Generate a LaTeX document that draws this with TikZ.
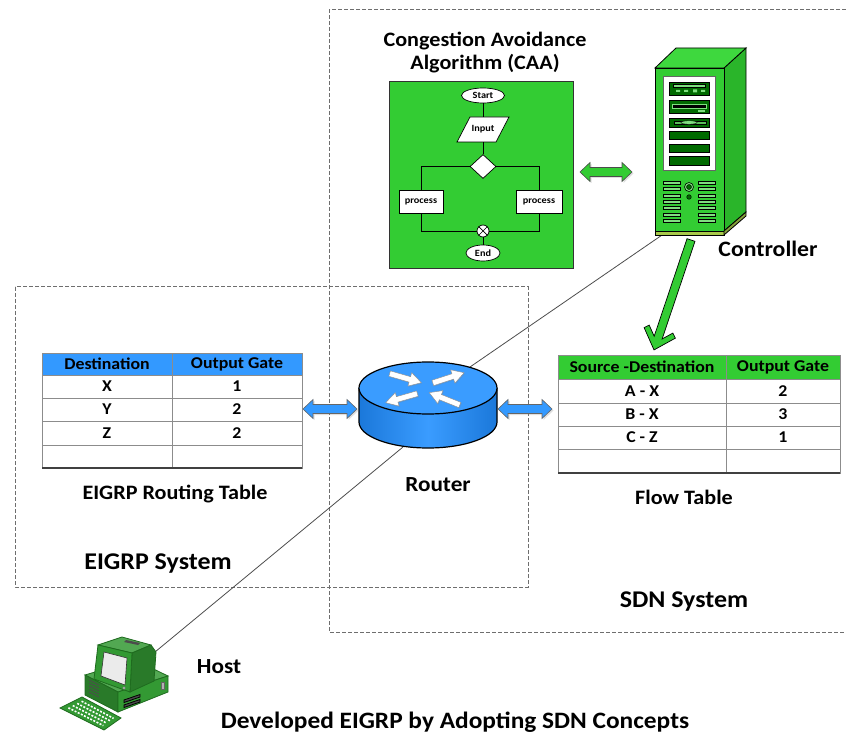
\documentclass[tikz,border=0pt]{standalone}
\usepackage{fontspec}
\setmainfont{Carlito}[FakeStretch=1.08]
\usetikzlibrary{calc,shapes.geometric,shadows}

\definecolor{caagreen}{HTML}{33CC33}
\definecolor{srvside}{HTML}{2AB52A}
\definecolor{srvtop}{HTML}{3ED83E}
\definecolor{srvbase}{HTML}{A8C84A}
\definecolor{baydark}{HTML}{006A00}
\definecolor{ventgreen}{HTML}{7FE07F}
\definecolor{hdrblue}{HTML}{3399FF}
\definecolor{rtrblue}{HTML}{3A9CFF}
\definecolor{rtrdark}{HTML}{1B78DA}
\definecolor{hostgreen}{HTML}{339933}
\definecolor{hostdark}{HTML}{1F6B1F}
\definecolor{dashgray}{HTML}{6E6E6E}
\definecolor{gridgray}{HTML}{8C8C8C}

\newcommand\txtsz[1]{\fontsize{#1}{#1}\selectfont\bfseries}

% horizontal double-headed block arrow between two points
\newcommand\hdarrow[3]{%
  \filldraw[#1] let \p1=(#2), \p2=(#3) in
    (\x1,\y1) -- (\x1+10pt,\y1+9.5pt) -- (\x1+10pt,\y1+4.5pt)
    -- (\x2-10pt,\y1+4.5pt) -- (\x2-10pt,\y1+9.5pt) -- (\x2,\y1)
    -- (\x2-10pt,\y1-9.5pt) -- (\x2-10pt,\y1-4.5pt)
    -- (\x1+10pt,\y1-4.5pt) -- (\x1+10pt,\y1-9.5pt) -- cycle;}

\begin{document}
\begin{tikzpicture}[x=1pt,y=-1pt,
  dashbox/.style={draw=dashgray, line width=1pt, dash pattern=on 4pt off 2pt},
  link/.style={draw=black!70, line width=0.8pt},
  lbl/.style={inner sep=0pt, font=\txtsz{21}},
  cell/.style={inner sep=0pt, font=\txtsz{16.5}},
  flow/.style={draw=black, fill=white, line width=0.7pt, inner sep=0pt, font=\txtsz{9.5}},
  fline/.style={draw=black, line width=0.7pt},
  gridline/.style={draw=gridgray, line width=0.8pt},
  blockarrow/.style={line width=0.6pt, drop shadow={opacity=0.25, shadow xshift=1.5pt, shadow yshift=-1.5pt}},
  rtrarrow/.pic={\filldraw[fill=white, draw=black!45, line width=0.4pt,
       drop shadow={opacity=0.2, shadow xshift=1pt, shadow yshift=-1pt}]
     (-16pt,-2.8pt) -- (5pt,-2.8pt) -- (5pt,-7pt) -- (17pt,0pt) -- (5pt,7pt) -- (5pt,2.8pt) -- (-16pt,2.8pt) -- cycle;}
]
\useasboundingbox (0,0) rectangle (846,735);

% ---------- system boundaries ----------
\draw[dashbox] (846,10) -- (329,10) -- (329,632) -- (846,632);
\draw[dashbox] (15,287) rectangle (528,587);

% ---------- anchor points of the links ----------
\coordinate (hostport) at (155,652);
\coordinate (rtrbottom) at (403,447);
\coordinate (rtrtop) at (470,367);
\coordinate (ctrlport) at (665,233);
\draw[link] (hostport) -- (rtrbottom);
\draw[link] (rtrtop) -- (ctrlport);

% ---------- CAA block ----------
\node[lbl, font=\txtsz{20.5}] (caatitle1) at (485,41) {Congestion Avoidance};
\node[lbl, font=\txtsz{20.5}] (caatitle2) at (485,64) {Algorithm (CAA)};
\node[draw=black!80, fill=caagreen, line width=0.8pt, minimum width=184pt, minimum height=187pt, inner sep=0pt] (caa) at (481,174.5) {};

\node[flow, ellipse, minimum width=43pt, minimum height=15pt] (start) at (483,95.5) {Start};
\filldraw[fill=white, draw=black, line width=0.7pt] (470,117) -- (509,117) -- (496,142) -- (457,142) -- cycle;
\node[inner sep=0pt, minimum width=40pt, minimum height=25pt, font=\txtsz{9.5}] (input) at (483,129.5) {Input};
\node[flow, diamond, minimum width=26pt, minimum height=24pt] (dec) at (483,166.5) {};
\node[flow, minimum width=44pt, minimum height=23pt] (pleft) at (421,201.5) {process};
\node[flow, minimum width=46pt, minimum height=23pt] (pright) at (539,201.5) {process};
\node[flow, circle, minimum size=12pt] (merge) at (483,231) {};
\draw[fline] (merge.north west) -- (merge.south east) (merge.north east) -- (merge.south west);
\node[flow, ellipse, minimum width=34pt, minimum height=16pt] (end) at (483,253) {End};

\draw[fline] (start) -- (input);
\draw[fline] (input) -- (dec);
\draw[fline] (dec.west) -| (pleft.north);
\draw[fline] (dec.east) -| (pright.north);
\draw[fline] (pleft.south) |- (merge.west);
\draw[fline] (pright.south) |- (merge.east);
\draw[fline] (merge) -- (end);

% ---------- controller (server tower) ----------
\begin{scope}[line width=0.8pt, draw=black]
  \filldraw[fill=srvside] (724,68) -- (746,48) -- (746,212) -- (724,231) -- cycle;
  \filldraw[fill=srvtop] (655,68) -- (676,48) -- (746,48) -- (724,68) -- cycle;
  \filldraw[fill=caagreen] (655,68) rectangle (724,231);
  \filldraw[fill=srvbase] (655,231) rectangle (724,235);
  \filldraw[fill=srvbase!80!black] (724,231) -- (746,212) -- (746,216) -- (724,235) -- cycle;
  \filldraw[fill=white, draw=black!60] (663,76) rectangle (715,170);
  \foreach \ya/\yb in {82/95,100/113,118/127,131/139,144/152,156/165}
    \filldraw[fill=baydark, draw=black, line width=0.6pt] (669,\ya) rectangle (709,\yb);
  % drive details
  \filldraw[fill=ventgreen, draw=black, line width=0.4pt] (673,84.5) rectangle (705,87);
  \fill[ventgreen] (676,90) rectangle (680,92) (684,90) rectangle (688,92) (693,89.5) rectangle (697,92.5) (701,90) rectangle (705,92);
  \filldraw[fill=black, draw=ventgreen, line width=0.5pt] (672,104) rectangle (706,108);
  \fill[ventgreen] (698,110) rectangle (705,112);
  \filldraw[fill=ventgreen!70!baydark, draw=black, line width=0.4pt] (674,121) rectangle (706,124);
  \filldraw[fill=ventgreen, draw=black, line width=0.4pt] (689,122.5) ellipse [x radius=8pt, y radius=1.8pt];
  % vents and buttons
  \foreach \i in {0,...,6} {
    \filldraw[fill=ventgreen, line width=0.5pt] (663,181+\i*6.4) rectangle (680,184+\i*6.4);
    \filldraw[fill=ventgreen, line width=0.5pt] (698,181+\i*6.4) rectangle (715,184+\i*6.4);
  }
  \filldraw[fill=ventgreen, line width=0.6pt] (689,187) circle [radius=4.5pt];
  \filldraw[fill=baydark, line width=0.4pt] (689,187) circle [radius=2.5pt];
  \filldraw[fill=baydark, line width=0.4pt] (689,197) circle [radius=2.3pt];
\end{scope}
\node[lbl, font=\txtsz{22}] (ctrllabel) at (768,249) {Controller};

\coordinate (caaright) at (580,172);
\coordinate (ctrlleft) at (632,172);
\hdarrow{fill=caagreen, draw=black!70, blockarrow}{caaright}{ctrlleft}

% controller to flow table
\coordinate (ctrlout) at (691,240);
\begin{scope}[shift={(ctrlout)}, rotate=-108.6]
  \filldraw[fill=caagreen, draw=black, line width=0.7pt]
    (0pt,4.2pt) -- (103pt,4.2pt) -- (94pt,12.5pt) -- (98pt,16.5pt) -- (116pt,0pt)
    -- (98pt,-16.5pt) -- (94pt,-12.5pt) -- (103pt,-4.2pt) -- (0pt,-4.2pt) -- cycle;
\end{scope}

% ---------- router ----------
\shade[left color=rtrdark, right color=rtrdark, middle color=rtrblue]
  (359,388) -- (359,422) arc[start angle=180, end angle=360, x radius=69pt, y radius=26pt]
  -- (497,388) arc[start angle=0, end angle=-180, x radius=69pt, y radius=26pt] -- cycle;
\draw[line width=1.2pt]
  (359,388) -- (359,422) arc[start angle=180, end angle=360, x radius=69pt, y radius=26pt]
  -- (497,388);
\filldraw[fill=rtrblue, draw=black, line width=1.2pt] (428,388) ellipse [x radius=69pt, y radius=26pt];
\pic[rotate=-16] at (405,378) {rtrarrow};
\pic[rotate=18] at (448,378) {rtrarrow};
\pic[rotate=-164] at (402,398) {rtrarrow};
\pic[rotate=158] at (445,399) {rtrarrow};
\node[lbl, font=\txtsz{21.5}] (rtrlabel) at (438,485) {Router};

% ---------- EIGRP routing table ----------
\fill[hdrblue] (42,353) rectangle (302,375);
\draw[gridline] (42,353) rectangle (302,468);
\foreach \y in {375,398,421,445} \draw[gridline] (42,\y) -- (302,\y);
\draw[gridline] (172,353) -- (172,468);
\draw[line width=1.6pt, black!75] (42,468) -- (302,468);
\node[cell] (edh1) at (107,364) {Destination};
\node[cell] (edh2) at (237,364) {Output Gate};
\node[cell] (ed1) at (107,386.5) {X};
\node[cell] (eg1) at (237,386.5) {1};
\node[cell] (ed2) at (107,409.5) {Y};
\node[cell] (eg2) at (237,409.5) {2};
\node[cell] (ed3) at (107,433) {Z};
\node[cell] (eg3) at (237,433) {2};
\node[lbl, font=\txtsz{20.5}] (eigrptitle) at (175,494) {EIGRP Routing Table};
\node[lbl, font=\txtsz{24}] (eigrpsys) at (158,564) {EIGRP System};

% ---------- SDN flow table ----------
\fill[caagreen] (558,355) rectangle (840,379);
\draw[gridline] (558,355) rectangle (840,473);
\foreach \y in {379,403,426,449} \draw[gridline] (558,\y) -- (840,\y);
\draw[gridline] (726,355) -- (726,473);
\draw[line width=1.6pt, black!75] (558,473) -- (840,473);
\node[cell] (fth1) at (642,367) {Source -Destination};
\node[cell] (fth2) at (783,367) {Output Gate};
\node[cell] (fs1) at (642,391) {A - X};
\node[cell] (fg1) at (783,391) {2};
\node[cell] (fs2) at (642,414.5) {B - X};
\node[cell] (fg2) at (783,414.5) {3};
\node[cell] (fs3) at (642,437.5) {C - Z};
\node[cell] (fg3) at (783,437.5) {1};
\node[lbl, font=\txtsz{20.5}] (flowtitle) at (684,497) {Flow Table};
\node[lbl, font=\txtsz{24}] (sdnsys) at (684,602) {SDN System};

% table <-> router links
\coordinate (etabE) at (303,409);
\coordinate (rtrW) at (357,409);
\coordinate (rtrE) at (498,409);
\coordinate (ftabW) at (552,409);
\hdarrow{fill=hdrblue, draw=black!60, blockarrow}{etabE}{rtrW}
\hdarrow{fill=hdrblue, draw=black!60, blockarrow}{rtrE}{ftabW}

% ---------- host computer ----------
\begin{scope}[line width=0.8pt, draw=hostdark]
  % keyboard
  \filldraw[fill=hostgreen] (60,708) -- (82,697) -- (121,718) -- (104,730) -- cycle;
  \foreach \t in {0.2,0.4,0.6,0.8}
    \draw[white, line width=1.6pt, dash pattern=on 2pt off 1.5pt]
      ($(60,708)!\t!(82,697)+(4,2)$) -- ($(104,730)!\t!(121,718)+(-4,-2)$);
  % system unit
  \filldraw[fill=hostgreen!85!white] (85,675) -- (135,660) -- (168,676) -- (118,692) -- cycle;
  \filldraw[fill=hostgreen!80!black] (85,675) -- (118,692) -- (118,712) -- (85,695) -- cycle;
  \filldraw[fill=hostgreen] (118,692) -- (168,676) -- (168,692) -- (118,712) -- cycle;
  \foreach \i in {0,...,4}
    \draw[black!70, line width=0.8pt] (89,680+\i*3) -- (99,685+\i*3);
  \filldraw[fill=black!70, draw=black] (124,700) -- (140,694.5) -- (140,697) -- (124,702.5) -- cycle;
  \filldraw[fill=black!70, draw=black] (124,705) -- (140,699.5) -- (140,702) -- (124,707.5) -- cycle;
  \filldraw[fill=black!30, draw=black!60] (161,682) rectangle (164,689);
  % monitor
  \filldraw[fill=hostgreen!85!white] (98,645) -- (122,637) -- (151,645) -- (132,653) -- cycle;
  \fill[black!70] (126,640) -- (140,643) -- (138,645) -- (124,642) -- cycle;
  \filldraw[fill=hostgreen!80!black] (132,653) -- (151,645) -- (156,652) -- (154,681) -- (130,692) -- cycle;
  \filldraw[fill=hostgreen] (98,645) -- (132,653) -- (130,692) -- (94,679) -- cycle;
  \filldraw[fill=black!8, draw=black!80, line width=0.6pt] (104,652) -- (127,658) -- (125,685) -- (101,676) -- cycle;
  \filldraw[fill=black!10, draw=black!60, line width=0.4pt] (124,688) circle [radius=1.3pt];
\end{scope}
\node[lbl, font=\txtsz{21.5}] (hostlabel) at (219,667) {Host};

% ---------- caption ----------
\node[lbl, font=\txtsz{23.5}] (caption) at (455,722) {Developed EIGRP by Adopting SDN Concepts};
\end{tikzpicture}
\end{document}
